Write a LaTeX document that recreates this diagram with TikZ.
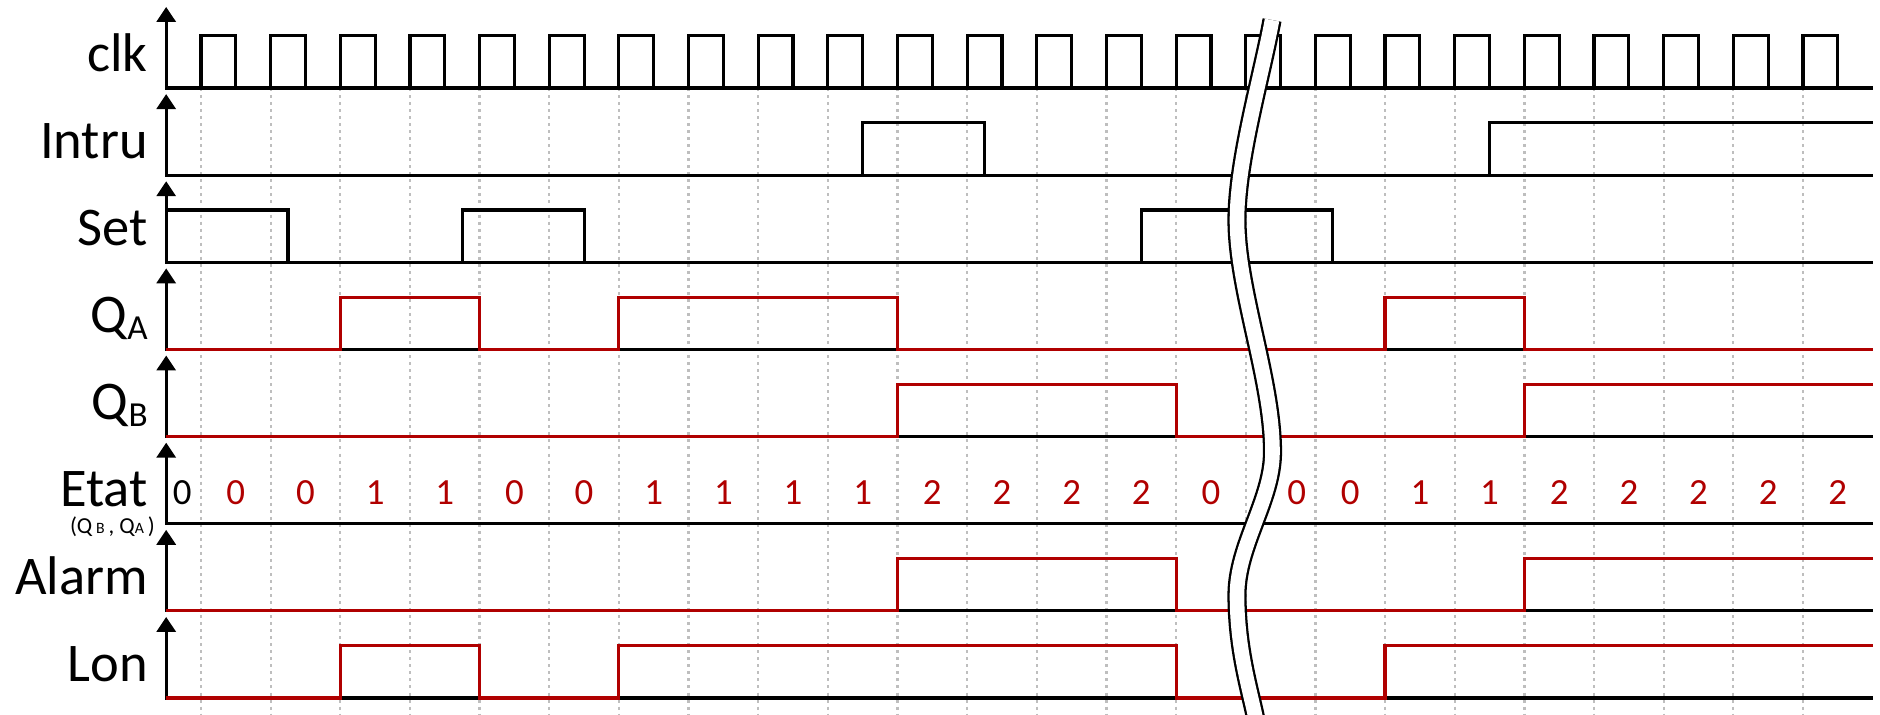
\documentclass[tikz,border=0pt]{standalone}
\usepackage{fontspec}
\setmainfont{Carlito}
\usetikzlibrary{arrows.meta}
\definecolor{sigred}{RGB}{176,0,0}
\definecolor{dotgray}{RGB}{190,190,190}
\newcommand{\hi}{0.6}
\newcommand{\lowidx}[1]{\raisebox{-4pt}{\fontsize{20}{20}\selectfont #1}}
\tikzset{
  >={Triangle[length=8.5pt,width=10.8pt]},
  sig/.style={draw=#1,line width=1.8pt,line join=miter},
  sig/.default=black,
  gridline/.style={draw=dotgray,line width=1.3pt,dash pattern=on 1.7pt off 2.3pt},
  lbl/.style={anchor=base east,inner sep=0pt,font=\fontsize{31}{31}\selectfont},
  statenum/.style={anchor=base,inner sep=0pt,text=sigred,font=\fontsize{21}{21}\selectfont},
  cut/.style={line width=1.3pt,double=white,double distance=8.3pt},
}

\begin{document}
\begin{tikzpicture}[x=1.393cm,y=1.7428cm]
  \useasboundingbox (-2.886,1.01) rectangle (24.106,-7.184);
  % clock grid
  \foreach \k in {0,...,23} \draw[gridline] (\k,0) -- (\k,-7.3);
  % axes and base lines
  \foreach \r in {0,...,7}
    \draw[sig,<-] (-0.5,-\r+0.93) -- (-0.5,-\r) -- (24,-\r);
  % labels
  \node[lbl] (lclk) at (-0.76,0.19) {clk};
  \node[lbl] (lintru) at (-0.76,-0.81) {Intru};
  \node[lbl] (lset) at (-0.76,-1.81) {Set};
  \node[lbl] (lqa) at (-0.76,-2.80) {Q\lowidx{A}};
  \node[lbl] (lqb) at (-0.76,-3.80) {Q\lowidx{B}};
  \node[lbl] (letat) at (-0.76,-4.80) {Etat};
  \node[anchor=east,inner sep=0pt,font=\fontsize{13}{13}\selectfont] (letatsub) at (-0.66,-5.04)
    {(Q\,{\fontsize{9}{9}\selectfont B}\,, Q{\fontsize{9}{9}\selectfont A}\,)};
  \node[lbl] (lalarm) at (-0.76,-5.81) {Alarm};
  \node[lbl] (llon) at (-0.76,-6.81) {Lon};
  % inputs
  \draw[sig] \foreach \k in {0,...,23} {(\k,0) |- (\k+.5,\hi) -- (\k+.5,0)};
  \begin{scope}[shift={(0,-1)}]
    \draw[sig] (-0.5,0) -| (9.5,\hi) -| (11.25,0) -| (18.5,\hi) -- (24,\hi);
  \end{scope}
  \begin{scope}[shift={(0,-2)}]
    \draw[sig] (-0.5,\hi) -| (1.25,0) -| (3.75,\hi) -| (5.5,0) -| (13.5,\hi) -| (16.25,0) -- (24,0);
  \end{scope}
  % outputs
  \begin{scope}[shift={(0,-3)}]
    \draw[sig=sigred] (-0.5,0) -| (2,\hi) -| (4,0) -| (6,\hi) -| (10,0) -| (17,\hi) -| (19,0) -- (24,0);
  \end{scope}
  \begin{scope}[shift={(0,-4)}]
    \draw[sig=sigred] (-0.5,0) -| (10,\hi) -| (14,0) -| (19,\hi) -- (24,\hi);
  \end{scope}
  \begin{scope}[shift={(0,-6)}]
    \draw[sig=sigred] (-0.5,0) -| (10,\hi) -| (14,0) -| (19,\hi) -- (24,\hi);
  \end{scope}
  \begin{scope}[shift={(0,-7)}]
    \draw[sig=sigred] (-0.5,0) -| (2,\hi) -| (4,0) -| (6,\hi) -| (14,0) -| (17,\hi) -- (24,\hi);
  \end{scope}
  % states
  \node[statenum,text=black] (s0) at (-0.27,-4.785) {0};
  \foreach \t/\v [count=\i] in {0.5/0,1.5/0,2.5/1,3.5/1,4.5/0,5.5/0,6.5/1,7.5/1,8.5/1,9.5/1,
      10.5/2,11.5/2,12.5/2,13.5/2,14.5/0,15.73/0,16.5/0,17.5/1,18.5/1,
      19.5/2,20.5/2,21.5/2,22.5/2,23.5/2}
    \node[statenum] (s\i) at (\t,-4.785) {\v};
  % time break
  \draw[cut] (15.377,0.780) .. controls (15.233,0.149) and (14.874,-0.826) .. (14.874,-1.515)
    .. controls (14.874,-2.318) and (15.384,-3.351) .. (15.384,-4.177)
    .. controls (15.384,-4.728) and (14.874,-5.244) .. (14.874,-5.818)
    .. controls (14.874,-6.449) and (15.061,-6.908) .. (15.147,-7.253);
\end{tikzpicture}
\end{document}
